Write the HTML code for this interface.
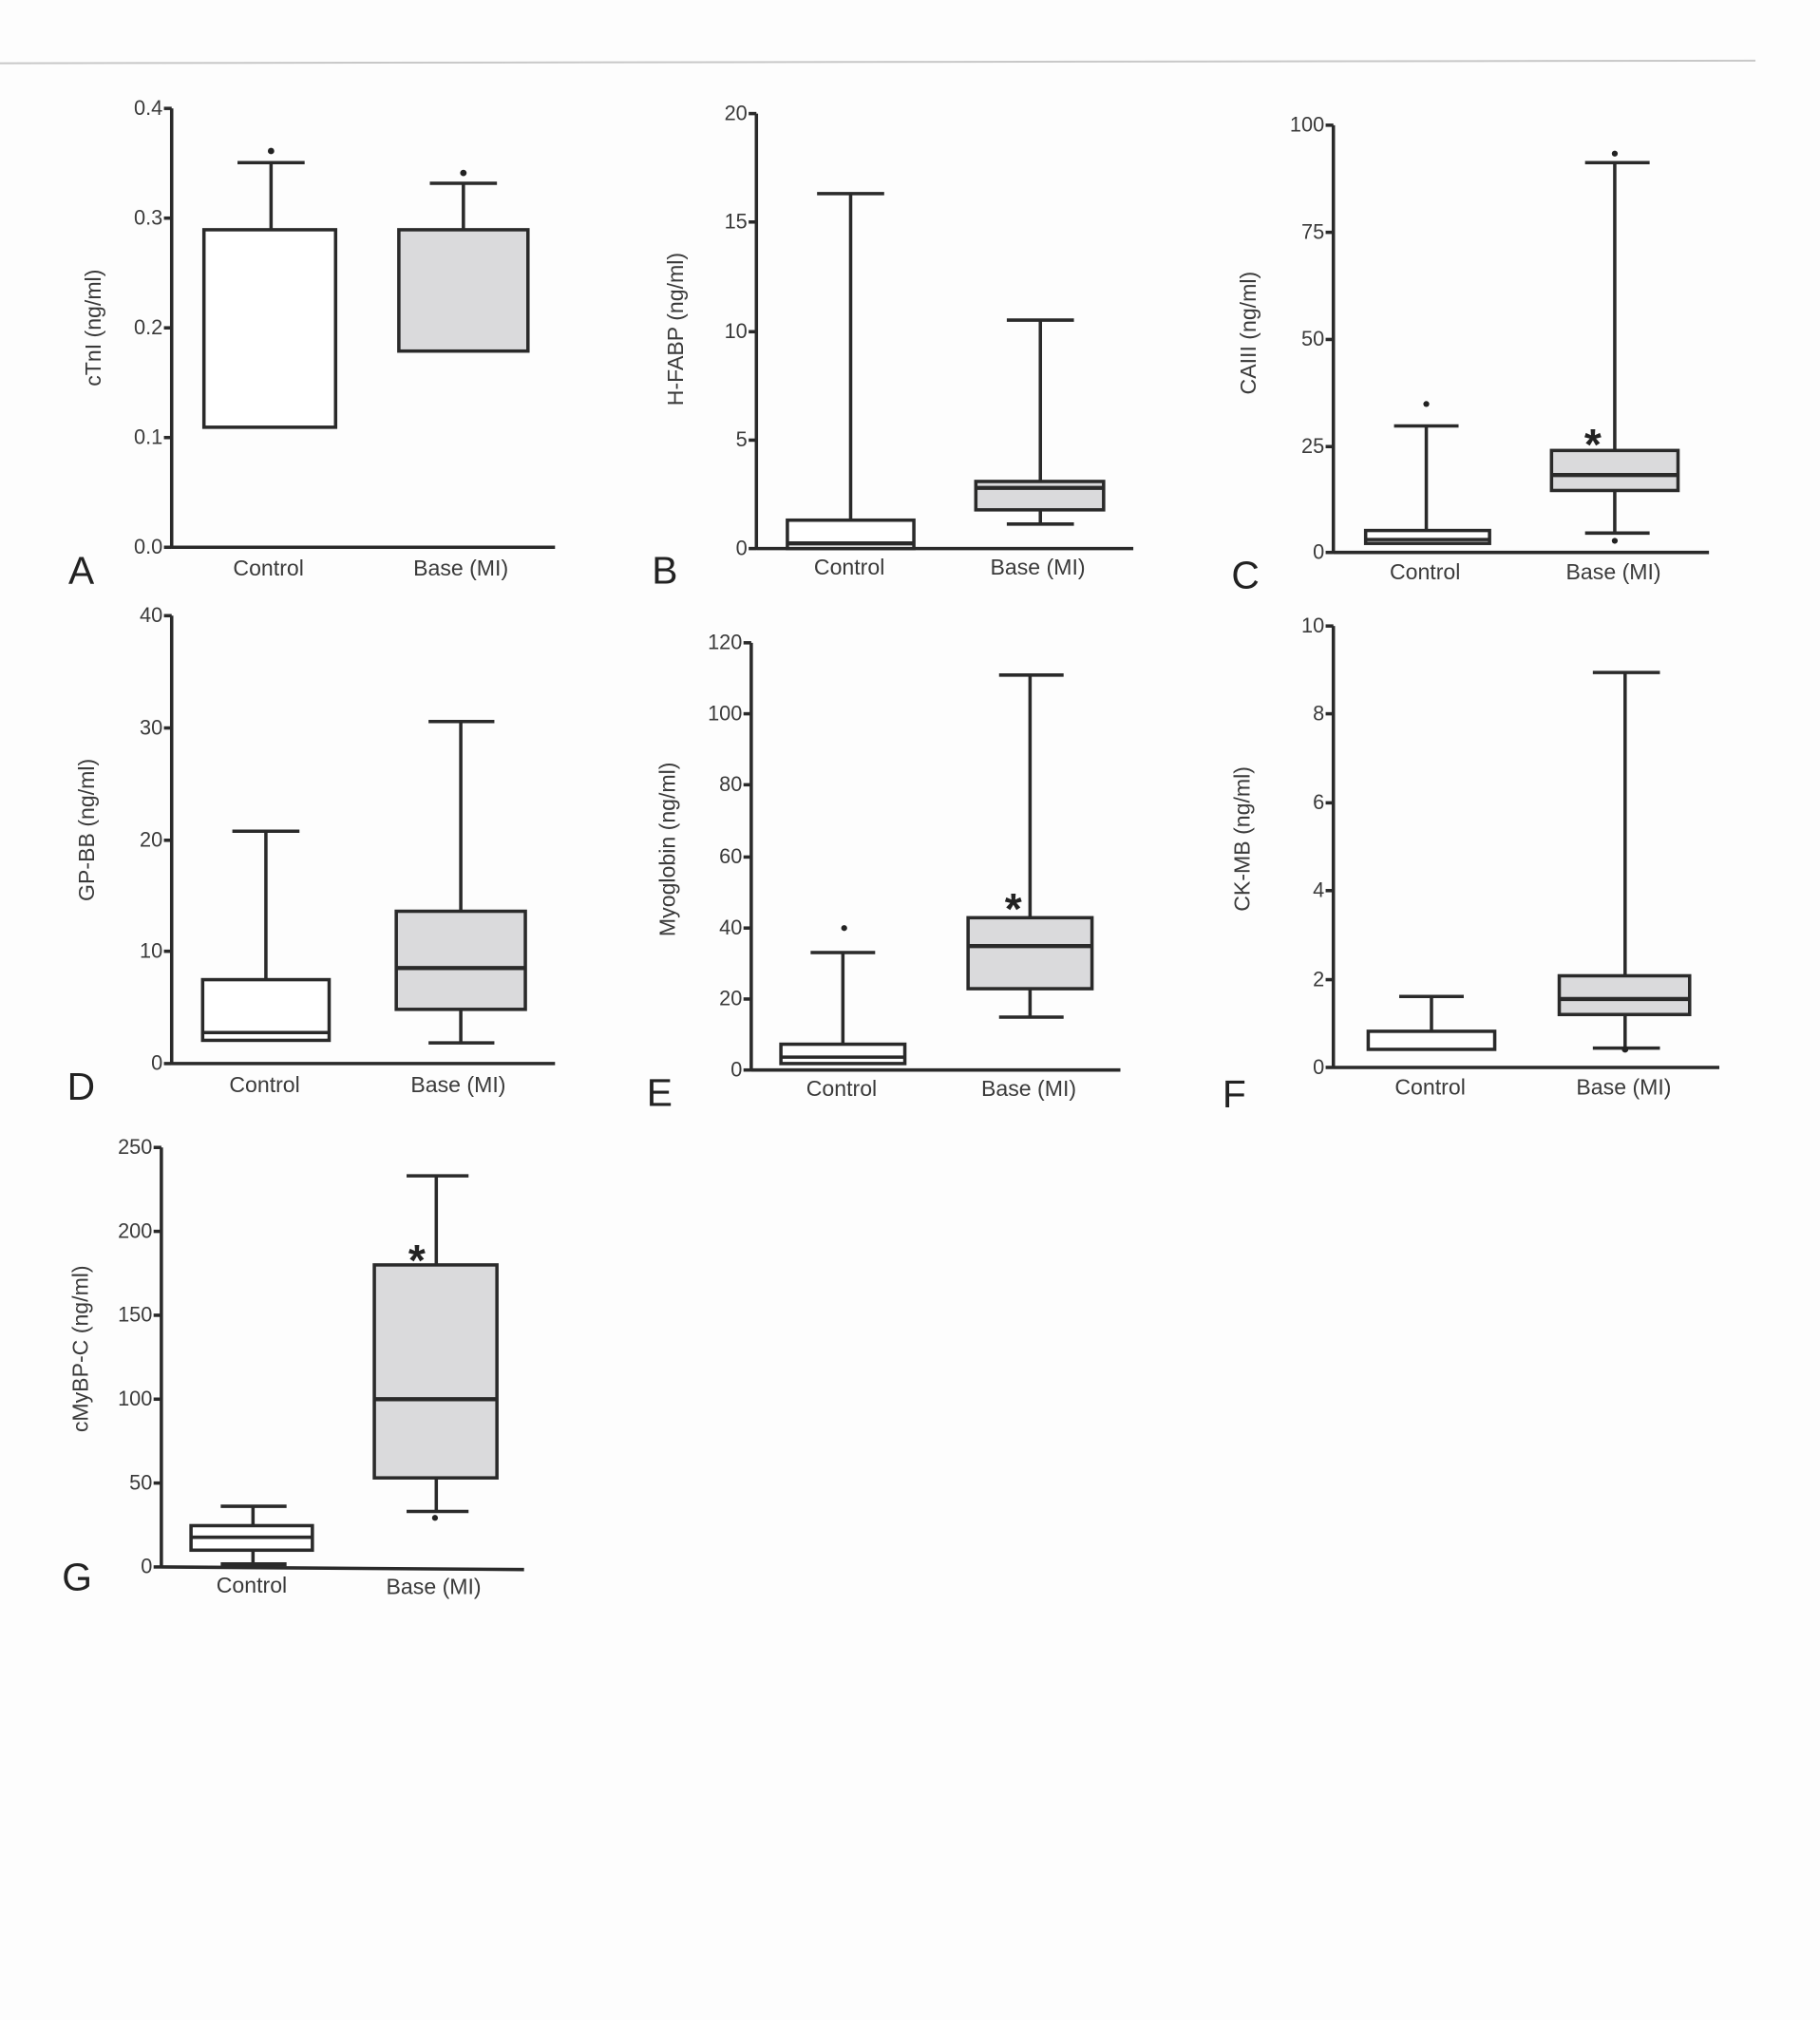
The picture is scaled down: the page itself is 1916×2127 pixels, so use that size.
<!DOCTYPE html>
<html><head><meta charset="utf-8"><style>
html,body{margin:0;padding:0;background:#fdfdfd;}
svg{display:block}
text{font-family:"Liberation Sans",sans-serif;fill:#3a3a3a}
.t{font-size:16px;text-anchor:end}
.c{font-size:17px;text-anchor:middle}
.y{font-size:17px;text-anchor:middle}
.L{font-size:30px;fill:#222}
.s{font-size:34px;font-weight:bold;text-anchor:middle;fill:#222}
line,rect{stroke:#2a2a2a;stroke-width:2.6}
.g{fill:#dadadc}
.w{fill:#fff}
.m{stroke-width:3.2}
</style></head><body>
<svg width="1916" height="2127" viewBox="0 0 1410 1565" preserveAspectRatio="none" xmlns="http://www.w3.org/2000/svg">
<line x1="0" y1="49" x2="1360" y2="47" style="stroke:#c8c8c8;stroke-width:1.5"/>

<!-- A -->
<line x1="133" y1="84" x2="133" y2="425"/><line x1="133" y1="424" x2="430" y2="424"/>
<line x1="127" y1="84" x2="133" y2="84"/><line x1="127" y1="169" x2="133" y2="169"/><line x1="127" y1="254" x2="133" y2="254"/><line x1="127" y1="339" x2="133" y2="339"/><line x1="127" y1="424" x2="133" y2="424"/>
<text class="t" x="126" y="89">0.4</text><text class="t" x="126" y="174">0.3</text><text class="t" x="126" y="259">0.2</text><text class="t" x="126" y="344">0.1</text><text class="t" x="126" y="429">0.0</text>
<line x1="210" y1="126" x2="210" y2="178"/><line x1="184" y1="126" x2="236" y2="126"/><circle cx="210" cy="117" r="2.5" fill="#222"/>
<rect class="w" x="158" y="178" width="102" height="153"/>
<line x1="359" y1="142" x2="359" y2="178"/><line x1="333" y1="142" x2="385" y2="142"/><circle cx="359" cy="134" r="2.5" fill="#222"/>
<rect class="g" x="309" y="178" width="100" height="94"/>
<text class="c" x="208" y="446">Control</text><text class="c" x="357" y="446">Base (MI)</text>
<text class="L" x="53" y="452">A</text>
<text class="y" transform="translate(78,254) rotate(-90)">cTnI (ng/ml)</text>

<!-- B -->
<line x1="586" y1="88" x2="586" y2="426"/><line x1="586" y1="425" x2="878" y2="425"/>
<line x1="580" y1="88" x2="586" y2="88"/><line x1="580" y1="172" x2="586" y2="172"/><line x1="580" y1="257" x2="586" y2="257"/><line x1="580" y1="341" x2="586" y2="341"/><line x1="580" y1="425" x2="586" y2="425"/>
<text class="t" x="579" y="93">20</text><text class="t" x="579" y="177">15</text><text class="t" x="579" y="262">10</text><text class="t" x="579" y="346">5</text><text class="t" x="579" y="430">0</text>
<line x1="659" y1="150" x2="659" y2="403"/><line x1="633" y1="150" x2="685" y2="150"/>
<rect class="w" x="610" y="403" width="98" height="22"/><line class="m" x1="610" y1="421" x2="708" y2="421"/>
<line x1="806" y1="248" x2="806" y2="406"/><line x1="780" y1="248" x2="832" y2="248"/><line x1="780" y1="406" x2="832" y2="406"/>
<rect class="g" x="756" y="373" width="99" height="22"/><line class="m" x1="756" y1="378" x2="855" y2="378"/>
<text class="c" x="658" y="445">Control</text><text class="c" x="804" y="445">Base (MI)</text>
<text class="L" x="505" y="452">B</text>
<text class="y" transform="translate(529,255) rotate(-90)">H-FABP (ng/ml)</text>

<!-- C -->
<line x1="1033" y1="97" x2="1033" y2="429"/><line x1="1033" y1="428" x2="1324" y2="428"/>
<line x1="1027" y1="97" x2="1033" y2="97"/><line x1="1027" y1="180" x2="1033" y2="180"/><line x1="1027" y1="263" x2="1033" y2="263"/><line x1="1027" y1="346" x2="1033" y2="346"/><line x1="1027" y1="428" x2="1033" y2="428"/>
<text class="t" x="1026" y="102">100</text><text class="t" x="1026" y="185">75</text><text class="t" x="1026" y="268">50</text><text class="t" x="1026" y="351">25</text><text class="t" x="1026" y="433">0</text>
<line x1="1105" y1="330" x2="1105" y2="411"/><line x1="1080" y1="330" x2="1130" y2="330"/><circle cx="1105" cy="313" r="2.3" fill="#222"/>
<rect class="w" x="1058" y="411" width="96" height="10"/><line x1="1058" y1="418" x2="1154" y2="418"/>
<line x1="1251" y1="126" x2="1251" y2="413"/><line x1="1228" y1="126" x2="1278" y2="126"/><line x1="1228" y1="413" x2="1278" y2="413"/><circle cx="1251" cy="119" r="2.3" fill="#222"/><circle cx="1251" cy="419" r="2.3" fill="#222"/>
<rect class="g" x="1202" y="349" width="98" height="31"/><line class="m" x1="1202" y1="368" x2="1300" y2="368"/>
<text class="s" x="1234" y="356">*</text>
<text class="c" x="1104" y="449">Control</text><text class="c" x="1250" y="449">Base (MI)</text>
<text class="L" x="954" y="456">C</text>
<text class="y" transform="translate(973,258) rotate(-90)">CAIII (ng/ml)</text>

<!-- D -->
<line x1="133" y1="477" x2="133" y2="825"/><line x1="133" y1="824" x2="430" y2="824"/>
<line x1="127" y1="477" x2="133" y2="477"/><line x1="127" y1="564" x2="133" y2="564"/><line x1="127" y1="651" x2="133" y2="651"/><line x1="127" y1="737" x2="133" y2="737"/><line x1="127" y1="824" x2="133" y2="824"/>
<text class="t" x="126" y="482">40</text><text class="t" x="126" y="569">30</text><text class="t" x="126" y="656">20</text><text class="t" x="126" y="742">10</text><text class="t" x="126" y="829">0</text>
<line x1="206" y1="644" x2="206" y2="759"/><line x1="180" y1="644" x2="232" y2="644"/>
<rect class="w" x="157" y="759" width="98" height="47"/><line x1="157" y1="800" x2="255" y2="800"/>
<line x1="357" y1="559" x2="357" y2="808"/><line x1="332" y1="559" x2="383" y2="559"/><line x1="332" y1="808" x2="383" y2="808"/>
<rect class="g" x="307" y="706" width="100" height="76"/><line class="m" x1="307" y1="750" x2="407" y2="750"/>
<text class="c" x="205" y="846">Control</text><text class="c" x="355" y="846">Base (MI)</text>
<text class="L" x="52" y="852">D</text>
<text class="y" transform="translate(73,643) rotate(-90)">GP-BB (ng/ml)</text>

<!-- E -->
<line x1="582" y1="498" x2="582" y2="830"/><line x1="582" y1="829" x2="868" y2="829"/>
<line x1="576" y1="498" x2="582" y2="498"/><line x1="576" y1="553" x2="582" y2="553"/><line x1="576" y1="608" x2="582" y2="608"/><line x1="576" y1="664" x2="582" y2="664"/><line x1="576" y1="719" x2="582" y2="719"/><line x1="576" y1="774" x2="582" y2="774"/><line x1="576" y1="829" x2="582" y2="829"/>
<text class="t" x="575" y="503">120</text><text class="t" x="575" y="558">100</text><text class="t" x="575" y="613">80</text><text class="t" x="575" y="669">60</text><text class="t" x="575" y="724">40</text><text class="t" x="575" y="779">20</text><text class="t" x="575" y="834">0</text>
<line x1="653" y1="738" x2="653" y2="809"/><line x1="628" y1="738" x2="678" y2="738"/><circle cx="654" cy="719" r="2.3" fill="#222"/>
<rect class="w" x="605" y="809" width="96" height="15"/><line x1="605" y1="819" x2="701" y2="819"/>
<line x1="798" y1="523" x2="798" y2="788"/><line x1="774" y1="523" x2="824" y2="523"/><line x1="774" y1="788" x2="824" y2="788"/>
<rect class="g" x="750" y="711" width="96" height="55"/><line class="m" x1="750" y1="733" x2="846" y2="733"/>
<text class="s" x="785" y="716">*</text>
<text class="c" x="652" y="849">Control</text><text class="c" x="797" y="849">Base (MI)</text>
<text class="L" x="501" y="857">E</text>
<text class="y" transform="translate(523,658) rotate(-90)">Myoglobin (ng/ml)</text>

<!-- F -->
<line x1="1033" y1="485" x2="1033" y2="828"/><line x1="1033" y1="827" x2="1332" y2="827"/>
<line x1="1027" y1="485" x2="1033" y2="485"/><line x1="1027" y1="553" x2="1033" y2="553"/><line x1="1027" y1="622" x2="1033" y2="622"/><line x1="1027" y1="690" x2="1033" y2="690"/><line x1="1027" y1="759" x2="1033" y2="759"/><line x1="1027" y1="827" x2="1033" y2="827"/>
<text class="t" x="1026" y="490">10</text><text class="t" x="1026" y="558">8</text><text class="t" x="1026" y="627">6</text><text class="t" x="1026" y="695">4</text><text class="t" x="1026" y="764">2</text><text class="t" x="1026" y="832">0</text>
<line x1="1109" y1="772" x2="1109" y2="799"/><line x1="1084" y1="772" x2="1134" y2="772"/>
<rect class="w" x="1060" y="799" width="98" height="14"/>
<line x1="1259" y1="521" x2="1259" y2="812"/><line x1="1234" y1="521" x2="1286" y2="521"/><line x1="1234" y1="812" x2="1286" y2="812"/><circle cx="1259" cy="813" r="2.5" fill="#222"/>
<rect class="g" x="1208" y="756" width="101" height="30"/><line class="m" x1="1208" y1="774" x2="1309" y2="774"/>
<text class="c" x="1108" y="848">Control</text><text class="c" x="1258" y="848">Base (MI)</text>
<text class="L" x="947" y="858">F</text>
<text class="y" transform="translate(968,650) rotate(-90)">CK-MB (ng/ml)</text>

<!-- G -->
<line x1="125" y1="889" x2="125" y2="1215"/><line x1="125" y1="1214" x2="406" y2="1216"/>
<line x1="119" y1="889" x2="125" y2="889"/><line x1="119" y1="954" x2="125" y2="954"/><line x1="119" y1="1019" x2="125" y2="1019"/><line x1="119" y1="1084" x2="125" y2="1084"/><line x1="119" y1="1149" x2="125" y2="1149"/><line x1="119" y1="1214" x2="125" y2="1214"/>
<text class="t" x="118" y="894">250</text><text class="t" x="118" y="959">200</text><text class="t" x="118" y="1024">150</text><text class="t" x="118" y="1089">100</text><text class="t" x="118" y="1154">50</text><text class="t" x="118" y="1219">0</text>
<line x1="196" y1="1167" x2="196" y2="1212"/><line x1="171" y1="1167" x2="222" y2="1167"/><line class="m" x1="171" y1="1212" x2="222" y2="1212"/>
<rect class="w" x="148" y="1182" width="94" height="19"/><line x1="148" y1="1191" x2="242" y2="1191"/>
<line x1="338" y1="911" x2="338" y2="1171"/><line x1="315" y1="911" x2="363" y2="911"/><line x1="315" y1="1171" x2="363" y2="1171"/><circle cx="337" cy="1176" r="2.3" fill="#222"/>
<rect class="g" x="290" y="980" width="95" height="165"/><line class="m" x1="290" y1="1084" x2="385" y2="1084"/>
<text class="s" x="323" y="988">*</text>
<text class="c" x="195" y="1234">Control</text><text class="c" x="336" y="1235">Base (MI)</text>
<text class="L" x="48" y="1232">G</text>
<text class="y" transform="translate(68,1045) rotate(-90)">cMyBP-C (ng/ml)</text>
</svg>
</body></html>
